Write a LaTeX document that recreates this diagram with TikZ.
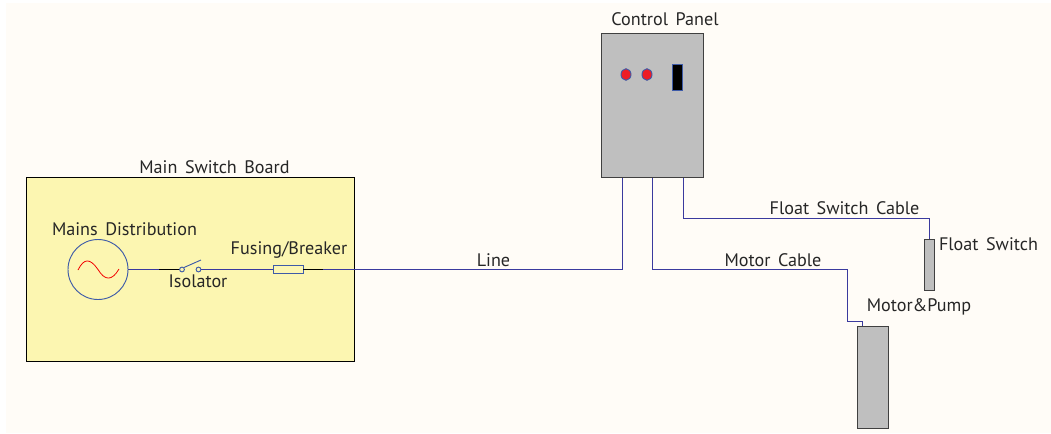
\documentclass[tikz,border=0pt]{standalone}
\usepackage{fontspec}
\setmainfont{PT Sans}
\definecolor{paper}{HTML}{FFFCF7}
\definecolor{board}{HTML}{FCF6B1}
\definecolor{steel}{HTML}{BFBFBF}
\definecolor{wire}{HTML}{3A3A9E}
\definecolor{edge}{HTML}{3E5BA8}
\definecolor{lamp}{HTML}{EE1C25}
\tikzset{
  x=0.75pt,y=-0.75pt,
  box/.style={draw=black!75,line width=0.75pt,fill=steel,inner sep=0pt,outer sep=0pt},
  boardbox/.style={draw=black,line width=0.7pt,fill=board},
  wireline/.style={draw=wire,line width=0.75pt},
  sym/.style={draw=edge,line width=0.7pt},
  stub/.style={draw=black,line width=0.6pt},
  label/.style={font=\fontsize{13.6pt}{15pt}\selectfont,text=black!85,inner sep=0pt}
}
\begin{document}
\begin{tikzpicture}
\useasboundingbox (0,0) rectangle (1051,433);
\fill[white] (0,0) rectangle (1051,433);
\fill[paper] (6,3) rectangle (1051,433);
% boxes
\draw[boardbox] (26,177.5) rectangle (354,361);
\node[box,minimum width=76.5pt,minimum height=107.6pt,anchor=north west] (cp) at (601,33.8) {};
\node[box,minimum width=7.5pt,minimum height=38.25pt,anchor=north west] (fs) at (924,239) {};
\node[box,minimum width=23.25pt,minimum height=76.5pt,anchor=north west] (mp) at (857,326) {};
% panel details
\node[circle,sym,fill=lamp,minimum size=7.5pt,inner sep=0pt,yscale=1.15] (la) at (626,74.5) {};
\node[circle,sym,fill=lamp,minimum size=7.5pt,inner sep=0pt,yscale=1.15] (lb) at (647,74.5) {};
\node[sym,fill=black,minimum width=7.5pt,minimum height=19.5pt,inner sep=0pt] (ind) at (677.5,77.5) {};
% mains symbol
\node[circle,sym,fill=board,minimum size=45pt,inner sep=0pt] (src) at (98,269.5) {};
\draw[red!95!black,line width=0.6pt] (78,270) .. controls (84,258) and (90,258) .. (98,269.5) .. controls (105,281) and (112,281) .. (119,269);
% switch and fuse
\node[circle,sym,fill=board,minimum size=3.6pt,inner sep=0pt] (ca) at (182,269.5) {};
\node[circle,sym,fill=board,minimum size=3.6pt,inner sep=0pt] (cb) at (198.5,269.5) {};
\coordinate (bl) at (201,260);
\node[sym,fill=board,minimum width=22.5pt,minimum height=6pt,inner sep=0pt] (fuse) at (288,269.5) {};
% junction coordinates
\coordinate (stubA) at (159,269.5);
\coordinate (stubC) at (323,269.5);
\coordinate (cpL) at (622,177.5);
\coordinate (cpM) at (652,177.5);
\coordinate (cpR) at (683,177.5);
\coordinate (fsT) at (929,239);
\coordinate (mpT) at (862.5,326);
% wires
\draw[wireline] (src.east) -- (ca.west);
\draw[wireline] (cb.east) -- (fuse.west);
\draw[wireline] (fuse.east) -- (622,269.5) -- (cpL);
\draw[wireline] (cpM) -- (652,269) -- (847,269) -- (847,321) -- (862.5,321) -- (mpT);
\draw[wireline] (cpR) -- (683,218) -- (929,218) -- (fsT);
\draw[stub] (stubA) -- (ca.west);
\draw[stub] (fuse.east) -- (stubC);
\draw[sym] (ca.north east) -- (bl);
% labels
\node[label] (t1) at (214.5,167) {Main\hspace{2pt} Switch\hspace{2pt} Board};
\node[label] (t2) at (124.5,229.5) {Mains\hspace{2pt} Distribution};
\node[label] (t3) at (198,281) {Isolator};
\node[label] (t4) at (289,249.5) {Fusing/Breaker};
\node[label] (t5) at (493.5,260.5) {Line};
\node[label] (t6) at (665,19.5) {Control\hspace{2pt} Panel};
\node[label] (t7) at (844.5,208.5) {Float\hspace{2pt} Switch\hspace{2pt} Cable};
\node[label] (t8) at (773,260.5) {Motor\hspace{2pt} Cable};
\node[label] (t9) at (988.5,244.5) {Float\hspace{2pt} Switch};
\node[label] (t10) at (919,307) {Motor\&Pump};
\end{tikzpicture}
\end{document}
